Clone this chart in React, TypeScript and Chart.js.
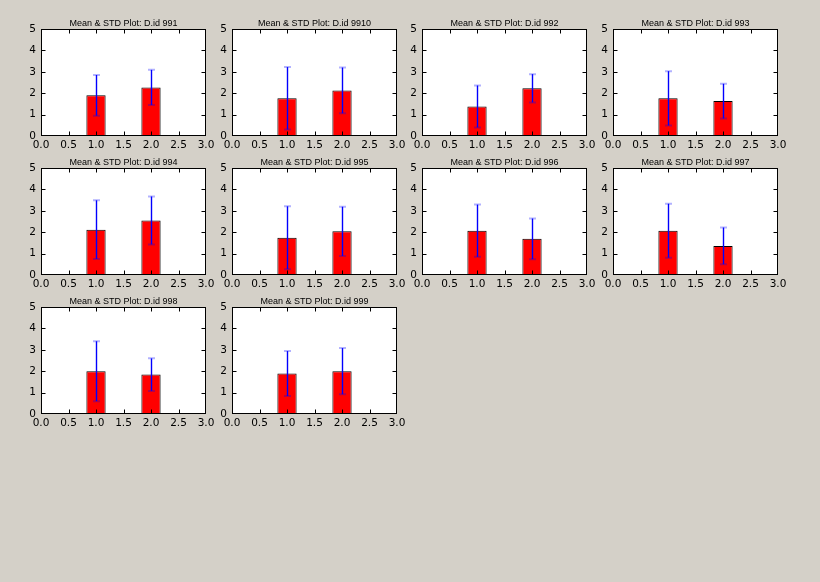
import React, { useEffect, useRef } from "react";
import { Chart, registerables } from "chart.js";

Chart.register(...registerables);

// ---- data ----
const plotIds = ["991", "9910", "992", "993", "994", "995", "996", "997", "998", "999"];
const barPositions = [1, 2];
const meanAt1 = [1.9, 1.76, 1.38, 1.76, 2.12, 1.74, 2.07, 2.07, 2.0, 1.89];
const stdAt1 = [0.95, 1.46, 0.98, 1.27, 1.37, 1.47, 1.22, 1.26, 1.4, 1.05];
const meanAt2 = [2.27, 2.13, 2.23, 1.63, 2.55, 2.04, 1.69, 1.36, 1.84, 2.0];
const stdAt2 = [0.82, 1.07, 0.66, 0.81, 1.12, 1.15, 0.95, 0.86, 0.76, 1.08];
const xTickValues = [0, 0.5, 1, 1.5, 2, 2.5, 3];
const yTickValues = [0, 1, 2, 3, 4, 5];

// ---- layout ----
const PLOT_W = 165;
const PLOT_H = 107;
const colLefts = [41, 232, 422, 613];
const rowTops = [29, 168, 307];
const PAD_L = 6;
const Y_W = 24;
const PAD_R = 14;
const PAD_T = 22;
const X_H = 18;
const CANVAS_W = PAD_L + Y_W + PLOT_W + PAD_R;
const CANVAS_H = PAD_T + PLOT_H + X_H;

const tickFont = { family: "DejaVu Sans", size: 10.5 };

function Subplot({ index }: { index: number }) {
  const ref = useRef<HTMLCanvasElement | null>(null);
  const col = index % 4;
  const row = Math.floor(index / 4);
  const left = colLefts[col] - PAD_L - Y_W;
  const top = rowTops[row] - PAD_T;

  useEffect(() => {
    if (!ref.current) return;
    const means = [meanAt1[index], meanAt2[index]];
    const stds = [stdAt1[index], stdAt2[index]];
    const title = "Mean & STD Plot: D.id " + plotIds[index];

    const framePlugin = {
      id: "frame",
      beforeDatasetsDraw(chart: any) {
        const { ctx, chartArea: a } = chart;
        ctx.save();
        ctx.fillStyle = "#ffffff";
        ctx.fillRect(a.left, a.top, a.right - a.left, a.bottom - a.top);
        ctx.restore();
      },
      afterDatasetsDraw(chart: any) {
        const { ctx, chartArea: a } = chart;
        const xs = chart.scales.x;
        const ys = chart.scales.y;
        const fl = Math.round(a.left) + 0.5;
        const ft = Math.round(a.top) + 0.5;
        const fr = Math.round(a.right) - 0.5;
        const fb = Math.round(a.bottom) - 0.5;
        ctx.save();
        // error bars
        barPositions.forEach((p, i) => {
          const px = Math.round(xs.getPixelForValue(p)) + 0.5;
          const yTop = ys.getPixelForValue(means[i] + stds[i]);
          const yBot = ys.getPixelForValue(means[i] - stds[i]);
          ctx.strokeStyle = "#0000ff";
          ctx.lineWidth = 1.4;
          ctx.beginPath();
          ctx.moveTo(px, yTop);
          ctx.lineTo(px, yBot);
          ctx.stroke();
          ctx.strokeStyle = "rgba(0,0,255,0.3)";
          ctx.lineWidth = 2;
          ctx.beginPath();
          ctx.moveTo(px - 3.5, yTop);
          ctx.lineTo(px + 3.5, yTop);
          ctx.moveTo(px - 3.5, yBot);
          ctx.lineTo(px + 3.5, yBot);
          ctx.stroke();
        });
        // inward ticks
        ctx.strokeStyle = "#000000";
        ctx.lineWidth = 1;
        ctx.beginPath();
        xTickValues.forEach((v) => {
          const px = Math.min(Math.max(Math.round(xs.getPixelForValue(v)) + 0.5, fl), fr);
          ctx.moveTo(px, fb);
          ctx.lineTo(px, fb - 4);
          ctx.moveTo(px, ft);
          ctx.lineTo(px, ft + 4);
        });
        yTickValues.forEach((v) => {
          const py = Math.min(Math.max(Math.round(ys.getPixelForValue(v)) + 0.5, ft), fb);
          ctx.moveTo(fl, py);
          ctx.lineTo(fl + 4, py);
          ctx.moveTo(fr, py);
          ctx.lineTo(fr - 4, py);
        });
        ctx.stroke();
        // frame
        ctx.strokeRect(fl, ft, fr - fl, fb - ft);
        // title
        ctx.fillStyle = "#000000";
        ctx.font = "9px 'Liberation Sans'";
        ctx.textAlign = "center";
        ctx.textBaseline = "alphabetic";
        ctx.fillText(title, (a.left + a.right) / 2, a.top - 3);
        ctx.restore();
      },
    };

    const chart = new Chart(ref.current, {
      type: "bar",
      data: {
        datasets: [
          {
            data: barPositions.map((p, i) => ({ x: p, y: means[i] })),
            backgroundColor: "#ff0000",
            borderColor: "#000000",
            borderWidth: 1,
            borderSkipped: false,
            barPercentage: 0.7,
            categoryPercentage: 1,
          } as any,
        ],
      },
      options: {
        responsive: false,
        animation: false,
        devicePixelRatio: 1,
        layout: { padding: { top: PAD_T, right: PAD_R, left: PAD_L, bottom: 0 } },
        plugins: {
          legend: { display: false },
          tooltip: { enabled: false },
          title: { display: false },
        },
        scales: {
          x: {
            type: "linear",
            offset: false,
            min: 0,
            max: 3,
            afterBuildTicks: (s: any) => {
              s.ticks = xTickValues.map((v) => ({ value: v }));
            },
            afterFit: (s: any) => {
              s.height = X_H;
            },
            ticks: {
              callback: (v: any) => Number(v).toFixed(1),
              font: tickFont,
              color: "#000000",
              padding: 3,
              maxRotation: 0,
              autoSkip: false,
            },
            grid: { display: false, drawTicks: false },
            border: { display: false },
          },
          y: {
            type: "linear",
            min: 0,
            max: 5,
            afterBuildTicks: (s: any) => {
              s.ticks = yTickValues.map((v) => ({ value: v }));
            },
            afterFit: (s: any) => {
              s.width = Y_W;
            },
            ticks: {
              callback: (v: any) => String(v),
              font: tickFont,
              color: "#000000",
              padding: 5,
              autoSkip: false,
            },
            grid: { display: false, drawTicks: false },
            border: { display: false },
          },
        },
      } as any,
      plugins: [framePlugin],
    });
    return () => chart.destroy();
  }, [index]);

  return (
    <canvas
      ref={ref}
      width={CANVAS_W}
      height={CANVAS_H}
      style={{
        position: "absolute",
        left: left,
        top: top,
        width: CANVAS_W,
        height: CANVAS_H,
      }}
    />
  );
}

export default function App() {
  return (
    <div
      style={{
        position: "absolute",
        left: 0,
        top: 0,
        width: 820,
        height: 582,
        background: "#d4d0c8",
        overflow: "hidden",
      }}
    >
      {plotIds.map((id, i) => (
        <Subplot key={id} index={i} />
      ))}
    </div>
  );
}
